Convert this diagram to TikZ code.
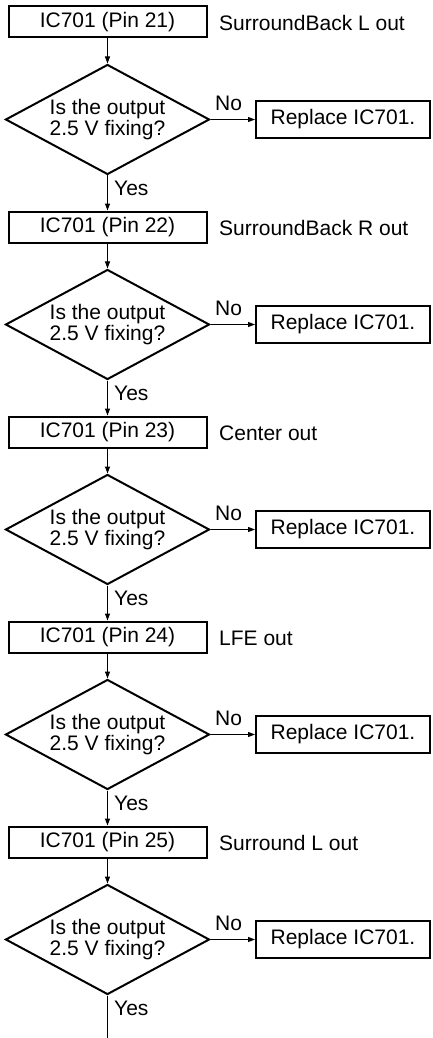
\documentclass[tikz,border=0pt]{standalone}
\usepackage{fontspec}
\setmainfont{Liberation Sans}
\usetikzlibrary{shapes.geometric,arrows.meta}
\begin{document}
\begin{tikzpicture}[x=1pt,y=-1pt,
  every node/.style={font=\fontsize{21}{19}\selectfont},
  pinbox/.style={draw, line width=2pt, minimum width=198pt, minimum height=31pt, inner sep=0pt},
  ask/.style={draw, shape=diamond, aspect=1.85, line width=2pt, minimum width=204pt, minimum height=110pt, inner sep=0pt, align=center},
  fixbox/.style={draw, line width=2pt, minimum width=174pt, minimum height=37pt, inner sep=0pt},
  flow/.style={line width=1pt, -{Triangle[length=7pt,width=5pt]}},
  lbl/.style={anchor=base west, inner sep=0pt}]
\useasboundingbox (0,0) rectangle (433,1038);
\foreach \i/\pin/\lab in {0/21/SurroundBack L out, 1/22/SurroundBack R out, 2/23/Center out, 3/24/LFE out, 4/25/Surround L out}{
  \pgfmathsetmacro\by{22+205*\i}
  \pgfmathsetmacro\dy{\by+97.5}
  \node[pinbox] (b\i) at (107.5,\by) {IC701 (Pin \pin)};
  \node[lbl] (s\i) at (219,{\by+8.5}) {\lab};
  \node[ask] (d\i) at (107.5,\dy) {Is the output\\2.5 V fixing?};
  \node[fixbox] (r\i) at (343,\dy) {Replace IC701.};
  \node[lbl] (n\i) at (215,{\dy-9}) {No};
  \node[lbl] (y\i) at (114,{\dy+75.5}) {Yes};
  \draw[flow] (b\i) -- (d\i);
  \draw[flow] (d\i) -- (r\i);
}
\foreach \i in {0,...,3}{
  \pgfmathtruncatemacro\j{\i+1}
  \draw[flow] (d\i) -- (b\j);
}
\coordinate (end) at (107.5,1038);
\draw[line width=1pt] (d4) -- (end);
\end{tikzpicture}
\end{document}
